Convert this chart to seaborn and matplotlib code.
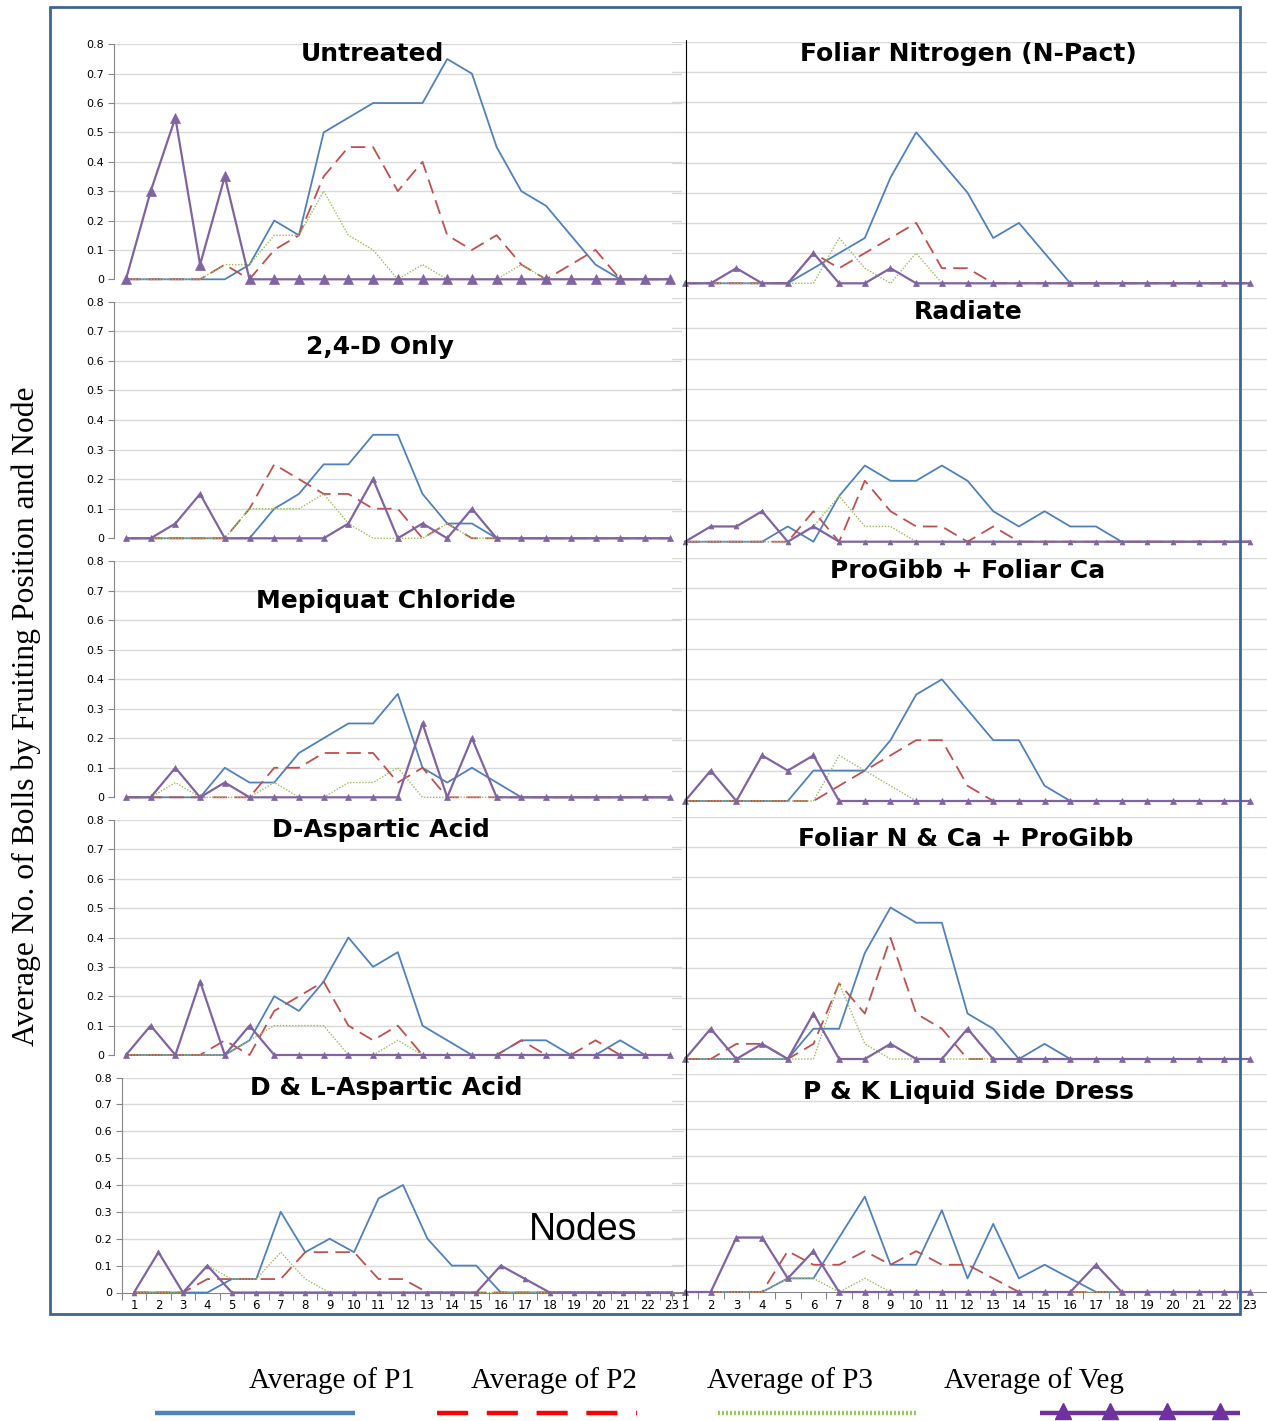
import matplotlib
matplotlib.use("Agg")
import matplotlib.pyplot as plt
from matplotlib.lines import Line2D
from matplotlib.patches import Rectangle
import seaborn as sns

W, H = 1267, 1421
nodes = list(range(1, 24))
ytick_vals = [0, 0.1, 0.2, 0.3, 0.4, 0.5, 0.6, 0.7, 0.8]
ytick_text = ["0", "0.1", "0.2", "0.3", "0.4", "0.5", "0.6", "0.7", "0.8"]
series_names = ["Average of P1", "Average of P2", "Average of P3", "Average of Veg"]

# ---- average bolls per node, by fruiting position ----
untreated_p1 = [0, 0, 0, 0, 0, 0.05, 0.2, 0.15, 0.5, 0.55, 0.6, 0.6, 0.6, 0.75, 0.7, 0.45, 0.3, 0.25, 0.15, 0.05, 0, 0, 0]
untreated_p2 = [0, 0, 0, 0, 0.05, 0, 0.1, 0.15, 0.35, 0.45, 0.45, 0.3, 0.4, 0.15, 0.1, 0.15, 0.05, 0, 0.05, 0.1, 0, 0, 0]
untreated_p3 = [0, 0, 0, 0, 0.05, 0.05, 0.15, 0.15, 0.3, 0.15, 0.1, 0, 0.05, 0, 0, 0, 0.05, 0, 0, 0, 0, 0, 0]
untreated_veg = [0, 0.3, 0.55, 0.05, 0.35, 0, 0, 0, 0, 0, 0, 0, 0, 0, 0, 0, 0, 0, 0, 0, 0, 0, 0]

npact_p1 = [0, 0, 0, 0, 0, 0.05, 0.1, 0.15, 0.35, 0.5, 0.4, 0.3, 0.15, 0.2, 0.1, 0, 0, 0, 0, 0, 0, 0, 0]
npact_p2 = [0, 0, 0, 0, 0, 0.1, 0.05, 0.1, 0.15, 0.2, 0.05, 0.05, 0, 0, 0, 0, 0, 0, 0, 0, 0, 0, 0]
npact_p3 = [0, 0, 0, 0, 0, 0, 0.15, 0.05, 0, 0.1, 0, 0, 0, 0, 0, 0, 0, 0, 0, 0, 0, 0, 0]
npact_veg = [0, 0, 0.05, 0, 0, 0.1, 0, 0, 0.05, 0, 0, 0, 0, 0, 0, 0, 0, 0, 0, 0, 0, 0, 0]

d24_p1 = [0, 0, 0, 0, 0, 0, 0.1, 0.15, 0.25, 0.25, 0.35, 0.35, 0.15, 0.05, 0.05, 0, 0, 0, 0, 0, 0, 0, 0]
d24_p2 = [0, 0, 0, 0, 0, 0.1, 0.25, 0.2, 0.15, 0.15, 0.1, 0.1, 0, 0.05, 0, 0, 0, 0, 0, 0, 0, 0, 0]
d24_p3 = [0, 0, 0, 0, 0, 0.1, 0.1, 0.1, 0.15, 0.05, 0, 0, 0, 0.05, 0, 0, 0, 0, 0, 0, 0, 0, 0]
d24_veg = [0, 0, 0.05, 0.15, 0, 0, 0, 0, 0, 0.05, 0.2, 0, 0.05, 0, 0.1, 0, 0, 0, 0, 0, 0, 0, 0]

radiate_p1 = [0, 0, 0, 0, 0.05, 0, 0.15, 0.25, 0.2, 0.2, 0.25, 0.2, 0.1, 0.05, 0.1, 0.05, 0.05, 0, 0, 0, 0, 0, 0]
radiate_p2 = [0, 0, 0, 0, 0, 0.1, 0, 0.2, 0.1, 0.05, 0.05, 0, 0.05, 0, 0, 0, 0, 0, 0, 0, 0, 0, 0]
radiate_p3 = [0, 0, 0, 0, 0, 0.05, 0.15, 0.05, 0.05, 0, 0, 0, 0, 0, 0, 0, 0, 0, 0, 0, 0, 0, 0]
radiate_veg = [0, 0.05, 0.05, 0.1, 0, 0.05, 0, 0, 0, 0, 0, 0, 0, 0, 0, 0, 0, 0, 0, 0, 0, 0, 0]

mepiquat_p1 = [0, 0, 0, 0, 0.1, 0.05, 0.05, 0.15, 0.2, 0.25, 0.25, 0.35, 0.1, 0.05, 0.1, 0.05, 0, 0, 0, 0, 0, 0, 0]
mepiquat_p2 = [0, 0, 0, 0, 0, 0, 0.1, 0.1, 0.15, 0.15, 0.15, 0.05, 0.1, 0, 0, 0, 0, 0, 0, 0, 0, 0, 0]
mepiquat_p3 = [0, 0, 0.05, 0, 0, 0, 0.05, 0, 0, 0.05, 0.05, 0.1, 0, 0, 0, 0, 0, 0, 0, 0, 0, 0, 0]
mepiquat_veg = [0, 0, 0.1, 0, 0.05, 0, 0, 0, 0, 0, 0, 0, 0.25, 0, 0.2, 0, 0, 0, 0, 0, 0, 0, 0]

progibb_p1 = [0, 0, 0, 0, 0, 0.1, 0.1, 0.1, 0.2, 0.35, 0.4, 0.3, 0.2, 0.2, 0.05, 0, 0, 0, 0, 0, 0, 0, 0]
progibb_p2 = [0, 0, 0, 0, 0, 0, 0.05, 0.1, 0.15, 0.2, 0.2, 0.05, 0, 0, 0, 0, 0, 0, 0, 0, 0, 0, 0]
progibb_p3 = [0, 0, 0, 0, 0, 0, 0.15, 0.1, 0.05, 0, 0, 0, 0, 0, 0, 0, 0, 0, 0, 0, 0, 0, 0]
progibb_veg = [0, 0.1, 0, 0.15, 0.1, 0.15, 0, 0, 0, 0, 0, 0, 0, 0, 0, 0, 0, 0, 0, 0, 0, 0, 0]

dasp_p1 = [0, 0, 0, 0, 0, 0.05, 0.2, 0.15, 0.25, 0.4, 0.3, 0.35, 0.1, 0.05, 0, 0, 0.05, 0.05, 0, 0, 0.05, 0, 0]
dasp_p2 = [0, 0, 0, 0, 0.05, 0, 0.15, 0.2, 0.25, 0.1, 0.05, 0.1, 0, 0, 0, 0, 0.05, 0, 0, 0.05, 0, 0, 0]
dasp_p3 = [0, 0, 0, 0, 0, 0.05, 0.1, 0.1, 0.1, 0, 0, 0.05, 0, 0, 0, 0, 0, 0, 0, 0, 0, 0, 0]
dasp_veg = [0, 0.1, 0, 0.25, 0, 0.1, 0, 0, 0, 0, 0, 0, 0, 0, 0, 0, 0, 0, 0, 0, 0, 0, 0]

ncapg_p1 = [0, 0, 0, 0, 0, 0.1, 0.1, 0.35, 0.5, 0.45, 0.45, 0.15, 0.1, 0, 0.05, 0, 0, 0, 0, 0, 0, 0, 0]
ncapg_p2 = [0, 0, 0.05, 0.05, 0, 0.05, 0.25, 0.15, 0.4, 0.15, 0.1, 0, 0, 0, 0, 0, 0, 0, 0, 0, 0, 0, 0]
ncapg_p3 = [0, 0, 0, 0, 0, 0, 0.25, 0.05, 0, 0, 0, 0, 0, 0, 0, 0, 0, 0, 0, 0, 0, 0, 0]
ncapg_veg = [0, 0.1, 0, 0.05, 0, 0.15, 0, 0, 0.05, 0, 0, 0.1, 0, 0, 0, 0, 0, 0, 0, 0, 0, 0, 0]

dlasp_p1 = [0, 0, 0, 0, 0.05, 0.05, 0.3, 0.15, 0.2, 0.15, 0.35, 0.4, 0.2, 0.1, 0.1, 0, 0, 0, 0, 0, 0, 0, 0]
dlasp_p2 = [0, 0, 0, 0.05, 0.05, 0.05, 0.05, 0.15, 0.15, 0.15, 0.05, 0.05, 0, 0, 0, 0, 0, 0, 0, 0, 0, 0, 0]
dlasp_p3 = [0, 0, 0, 0.1, 0.05, 0.05, 0.15, 0.05, 0, 0, 0, 0, 0, 0, 0, 0, 0, 0, 0, 0, 0, 0, 0]
dlasp_veg = [0, 0.15, 0, 0.1, 0, 0, 0, 0, 0, 0, 0, 0, 0, 0, 0, 0.1, 0.05, 0, 0, 0, 0, 0, 0]

pk_p1 = [0, 0, 0, 0, 0.05, 0.05, 0.2, 0.35, 0.1, 0.1, 0.3, 0.05, 0.25, 0.05, 0.1, 0.05, 0, 0, 0, 0, 0, 0, 0]
pk_p2 = [0, 0, 0, 0, 0.15, 0.1, 0.1, 0.15, 0.1, 0.15, 0.1, 0.1, 0.05, 0, 0, 0, 0, 0, 0, 0, 0, 0, 0]
pk_p3 = [0, 0, 0, 0, 0.05, 0.05, 0, 0.05, 0, 0, 0, 0, 0, 0, 0, 0, 0, 0, 0, 0, 0, 0, 0]
pk_veg = [0, 0, 0.2, 0.2, 0.05, 0.15, 0, 0, 0, 0, 0, 0, 0, 0, 0, 0, 0.1, 0, 0, 0, 0, 0, 0]

treatments = [
    "Untreated", "Foliar Nitrogen (N-Pact)",
    "2,4-D Only", "Radiate",
    "Mepiquat Chloride", "ProGibb + Foliar Ca",
    "D-Aspartic Acid", "Foliar N & Ca + ProGibb",
    "D & L-Aspartic Acid", "P & K Liquid Side Dress",
]
panel_data = [
    (untreated_p1, untreated_p2, untreated_p3, untreated_veg),
    (npact_p1, npact_p2, npact_p3, npact_veg),
    (d24_p1, d24_p2, d24_p3, d24_veg),
    (radiate_p1, radiate_p2, radiate_p3, radiate_veg),
    (mepiquat_p1, mepiquat_p2, mepiquat_p3, mepiquat_veg),
    (progibb_p1, progibb_p2, progibb_p3, progibb_veg),
    (dasp_p1, dasp_p2, dasp_p3, dasp_veg),
    (ncapg_p1, ncapg_p2, ncapg_p3, ncapg_veg),
    (dlasp_p1, dlasp_p2, dlasp_p3, dlasp_veg),
    (pk_p1, pk_p2, pk_p3, pk_veg),
]

# ---- layout (pixel boxes: x0, x1, y_top(0.8), y_bottom(0), x-limits) ----
left_boxes = [
    (113.6, 682.0, 44.3, 279.3, (0.5, 23.5)),
    (113.6, 682.0, 301.7, 538.3, (0.5, 23.5)),
    (113.6, 682.0, 561.0, 797.3, (0.5, 23.5)),
    (113.6, 682.0, 820.0, 1055.0, (0.5, 23.5)),
    (121.8, 684.2, 1077.5, 1292.5, (0.5, 23.5)),
]
right_boxes = [
    (672.2, 1267.0, 41.7, 283.3, (0.5, 23.66)),
    (672.2, 1267.0, 298.0, 541.7, (0.5, 23.66)),
    (672.2, 1267.0, 557.7, 801.0, (0.5, 23.66)),
    (672.2, 1267.0, 816.7, 1059.0, (0.5, 23.66)),
    (672.2, 1267.0, 1074.0, 1292.0, (0.5, 23.66)),
]
title_pos = [
    (372, 54), (968, 54),
    (380, 347), (968, 312),
    (386, 601), (968, 571),
    (381, 830), (966, 839),
    (386, 1088), (968, 1092),
]
marker_sizes = [6.5, 5, 5, 3.5, 4.2, 5, 5, 5, 3.5, 5]

C_P1, C_P2, C_P3, C_VEG = "#4F81BD", "#C0504D", "#9BBB59", "#8064A2"
GRID = "#D9D9D9"
AXIS_GRAY = "#868686"

sns.set_theme(style="white")
plt.rcParams["font.family"] = ["DejaVu Sans"]

fig = plt.figure(figsize=(W / 100, H / 100), dpi=100)
fig.patch.set_facecolor("white")


def fx(x):
    return x / W


def fy(y):
    return 1 - y / H


def px_axes(x0, x1, y0, y1):
    return fig.add_axes([fx(x0), fy(y1), (x1 - x0) / W, (y1 - y0) / H])


def draw_panel(ax, data, msize):
    p1, p2, p3, veg = data
    sns.lineplot(x=nodes, y=p1, ax=ax, color=C_P1, linewidth=1.3,
                 clip_on=False, zorder=3, legend=False)
    sns.lineplot(x=nodes, y=p2, ax=ax, color=C_P2, linewidth=1.3,
                 linestyle=(0, (8, 4)), clip_on=False, zorder=4, legend=False)
    sns.lineplot(x=nodes, y=p3, ax=ax, color=C_P3, linewidth=1.0,
                 linestyle=(0, (1, 1.2)), clip_on=False, zorder=5, legend=False)
    sns.lineplot(x=nodes, y=veg, ax=ax, color=C_VEG, linewidth=1.6,
                 marker="^", markersize=msize, markeredgecolor=C_VEG,
                 markerfacecolor=C_VEG, markeredgewidth=0.5,
                 clip_on=False, zorder=6, legend=False)
    ax.set_xlabel("")
    ax.set_ylabel("")
    ax.set_ylim(0, 0.8)
    ax.set_yticks(ytick_vals)
    ax.grid(False)
    for v in ytick_vals[1:]:
        ax.axhline(v, color=GRID, linewidth=1.0, zorder=1)
    for s in ax.spines.values():
        s.set_visible(False)


for i in range(10):
    row, col = divmod(i, 2)
    if col == 0:
        x0, x1, y0, y1, xl = left_boxes[row]
    else:
        x0, x1, y0, y1, xl = right_boxes[row]
    ax = px_axes(x0, x1, y0, y1)
    ax.set_facecolor("none")
    draw_panel(ax, panel_data[i], marker_sizes[i])
    ax.set_xlim(*xl)

    if col == 0:
        ax.spines["left"].set_visible(True)
        ax.spines["left"].set_color(AXIS_GRAY)
        ax.spines["left"].set_linewidth(0.8)
        ax.set_yticklabels(ytick_text)
        ax.tick_params(axis="y", left=True, length=4, width=0.8,
                       color=AXIS_GRAY, labelsize=8, pad=3, labelcolor="black")
    else:
        ax.set_yticklabels([])
        ax.tick_params(axis="y", left=False, length=0)

    if row == 4:
        ax.spines["bottom"].set_visible(True)
        ax.spines["bottom"].set_color(AXIS_GRAY)
        ax.spines["bottom"].set_linewidth(0.8)
        ax.set_xticks(nodes)
        ax.set_xticklabels([str(n) for n in nodes])
        ax.set_xticks([n + 0.5 for n in range(0, 23)], minor=True)
        ax.tick_params(axis="x", which="major", bottom=False, length=0,
                       labelsize=8.5, pad=5, labelcolor="black")
        ax.tick_params(axis="x", which="minor", bottom=True, length=5,
                       width=0.8, color=AXIS_GRAY)
    else:
        ax.set_xticks([])

    tx, ty = title_pos[i]
    fig.text(fx(tx), fy(ty), treatments[i], ha="center", va="center",
             fontsize=18, fontweight="bold", color="black", zorder=10)

# vertical axis line shared by the right-hand panels
fig.add_artist(Line2D([fx(686), fx(686)], [fy(40), fy(1300)],
                      color="black", linewidth=0.8, zorder=8))

# outer frame
fig.add_artist(Rectangle((fx(50), fy(1314)), (1240 - 50) / W, (1314 - 7) / H,
                         fill=False, edgecolor="#3D6596", linewidth=2.0,
                         zorder=20))

# axis annotations
fig.text(fx(26), fy(716), "Average No. of Bolls by Fruiting Position and Node",
         rotation=90, ha="center", va="center", fontsize=22.8,
         family=["Liberation Serif"], color="black")
fig.text(fx(583), fy(1230), "Nodes", ha="center", va="center",
         fontsize=27, family=["Liberation Sans"], color="black", zorder=10)

# legend below the panels
leg_text_x = [332, 554, 790, 1034]
for name, x in zip(series_names, leg_text_x):
    fig.text(fx(x), fy(1381), name, ha="center", va="center", fontsize=21,
             family=["Liberation Serif"], color="black")

ly = fy(1413)
fig.add_artist(Line2D([fx(155), fx(355)], [ly, ly], color="#4F81BD",
                      linewidth=3.2, solid_capstyle="butt"))
fig.add_artist(Line2D([fx(437), fx(637)], [ly, ly], color="#FF0000",
                      linewidth=3.2, linestyle=(0, (7, 4.2)),
                      dash_capstyle="butt"))
fig.add_artist(Line2D([fx(718), fx(918)], [ly, ly], color="#92D050",
                      linewidth=3.2, linestyle=(0, (0.45, 0.45)),
                      dash_capstyle="butt"))
fig.add_artist(Line2D([fx(1040), fx(1240)], [ly, ly], color="#7030A0",
                      linewidth=3.2, solid_capstyle="butt"))
tri_x = [1063, 1110, 1167, 1220]
fig.add_artist(Line2D([fx(x) for x in tri_x], [fy(1411)] * 4, color="#7030A0",
                      linestyle="none", marker="^", markersize=12))

fig.savefig("out.png", dpi=100, facecolor="white")
